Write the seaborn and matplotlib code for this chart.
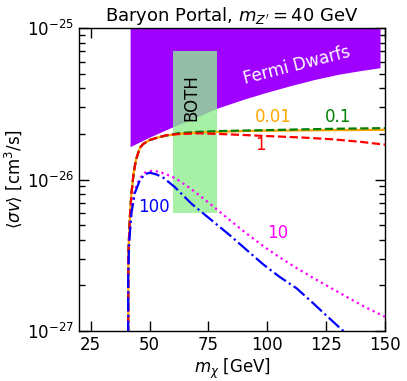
import numpy as np
import pandas as pd
import seaborn as sns
import matplotlib
matplotlib.use("Agg")
import matplotlib.pyplot as plt
from matplotlib import ticker

# ---------------- data (cross sections in units of 1e-26 cm^3/s) ----------------
x_rise = [40.85, 40.95, 41.6, 42.3, 43.2, 44.2, 45.9, 47.3, 50.0, 53.0, 57.0]
y_rise = [0.0316, 0.316, 0.562, 0.813, 1.096, 1.349, 1.622, 1.718, 1.820, 1.884, 1.950]

x_g001 = x_rise + [62.0, 70.0, 80.0, 90.0, 100.0, 115.0, 130.0, 150.0]
y_g001 = y_rise + [1.995, 2.042, 2.065, 2.089, 2.099, 2.109, 2.118, 2.128]

x_g01 = x_rise + [62.0, 70.0, 80.0, 90.0, 100.0, 115.0, 130.0, 150.0]
y_g01 = y_rise + [2.018, 2.061, 2.089, 2.104, 2.118, 2.143, 2.163, 2.183]

x_g1 = x_rise + [62.0, 71.4, 85.0, 99.7, 115.0, 128.0, 140.0, 150.0]
y_g1 = y_rise[:-1] + [1.959] + [1.995, 2.018, 1.982, 1.936, 1.892, 1.841, 1.770, 1.698]

x_g10 = [40.85, 40.9, 41.3, 42.3, 43.7, 45.9, 48.0, 51.0, 54.0, 58.6, 61.5, 67.0,
         72.8, 78.0, 84.2, 91.0, 98.3, 105.0, 112.5, 119.5, 126.6, 133.7, 140.8, 150.0]
y_g10 = [0.0316, 0.251, 0.407, 0.631, 0.851, 1.023, 1.109, 1.140, 1.127, 1.059, 1.007, 0.881,
         0.750, 0.646, 0.537, 0.442, 0.363, 0.308, 0.260, 0.224, 0.194, 0.168, 0.146, 0.124]

x_g100 = [40.85, 40.9, 41.3, 42.3, 43.7, 45.9, 48.0, 50.1, 53.0, 56.0, 60.7, 67.8,
          75.6, 84.2, 91.2, 98.3, 105.0, 112.5, 119.0, 125.2, 132.3, 136.0]
y_g100 = [0.0316, 0.229, 0.380, 0.603, 0.813, 0.993, 1.084, 1.109, 1.079, 1.023, 0.891, 0.692,
          0.550, 0.427, 0.343, 0.275, 0.229, 0.191, 0.155, 0.126, 0.100, 0.089]

# Fermi dwarfs excluded region: lower boundary (upper bound is 1e-25)
x_fermi = [41.7, 50.0, 60.0, 70.0, 78.5, 90.0, 100.0, 110.0, 120.0, 130.0, 140.0, 147.9]
y_fermi = [1.648, 1.905, 2.234, 2.582, 2.951, 3.388, 3.776, 4.169, 4.571, 4.943, 5.248, 5.470]

# "BOTH" box
both_x = [60.0, 78.5]
both_y = [0.60, 7.05]

couplings = ["0.01", "0.1", "1", "10", "100"]
colors = ["orange", "green", "red", "magenta", "blue"]
styles = ["-", "--", "--", ":", "-."]

SCALE = 1e-26

# ---------------- figure ----------------
sns.set_style("ticks")
plt.rcParams["font.family"] = ["DejaVu Sans"]
plt.rcParams["mathtext.fontset"] = "dejavusans"
for k in ["text.color", "axes.labelcolor", "xtick.color", "ytick.color", "axes.edgecolor"]:
    plt.rcParams[k] = "black"

fig = plt.figure(figsize=(4.07, 3.81), dpi=100)
ax = fig.add_axes([79 / 407, 1 - 331 / 381, (385 - 79) / 407, (331 - 28) / 381])

# Fermi region
ax.fill_between(x_fermi, np.array(y_fermi) * SCALE, 1.2e-25, color="#A000FF", lw=0, zorder=1)

# BOTH box
ax.fill_between(both_x, both_y[0] * SCALE, both_y[1] * SCALE, color="lightgreen",
                alpha=0.8, lw=0, zorder=2)

curves = [(x_g001, y_g001), (x_g01, y_g01), (x_g1, y_g1), (x_g10, y_g10), (x_g100, y_g100)]
for (xs, ys), c, ls in zip(curves, colors, styles):
    df = pd.DataFrame({"m": xs, "sv": np.array(ys) * SCALE})
    sns.lineplot(data=df, x="m", y="sv", ax=ax, color=c, linestyle=ls, lw=1.6,
                 sort=False, estimator=None, zorder=3)

ax.set_yscale("log")
ax.set_xlim(20, 150)
ax.set_ylim(1e-27, 1e-25)
ax.set_xticks([25, 50, 75, 100, 125, 150])
ax.xaxis.set_minor_locator(ticker.NullLocator())
ax.yaxis.set_minor_formatter(ticker.NullFormatter())
ax.tick_params(axis="both", which="both", direction="in", top=True, right=True,
               labelsize=12, colors="black")
ax.tick_params(axis="both", which="major", length=7, width=1)
ax.tick_params(axis="y", which="minor", length=4, width=1)
for s in ax.spines.values():
    s.set_linewidth(1.0)
    s.set_color("black")

ax.set_xlabel(r"$m_\chi$ [GeV]", fontsize=12, labelpad=2)
ax.set_ylabel(r"$\langle\sigma v\rangle$ [cm$^3$/s]", fontsize=12, labelpad=2)
ax.set_title(r"Baryon Portal, $m_{Z'} = 40$ GeV", fontsize=13, pad=5)

# annotations
ax.text(112.5, 10 ** -25.244, "Fermi Dwarfs", color="white", fontsize=12,
        rotation=14.5, ha="center", va="center", zorder=5)
ax.text(67.8, 10 ** -25.459, "BOTH", color="black", fontsize=12,
        rotation=90, ha="center", va="center", zorder=5)
ax.text(102.6, 10 ** -25.589, "0.01", color="orange", fontsize=12, ha="center", va="center")
ax.text(130.2, 10 ** -25.589, "0.1", color="green", fontsize=12, ha="center", va="center")
ax.text(96.9, 10 ** -25.772, "1", color="red", fontsize=12, ha="center", va="center")
ax.text(104.4, 10 ** -26.355, "10", color="magenta", fontsize=12, ha="center", va="center")
ax.text(51.8, 10 ** -26.18, "100", color="blue", fontsize=12, ha="center", va="center")

fig.savefig("out.png", dpi=100)
